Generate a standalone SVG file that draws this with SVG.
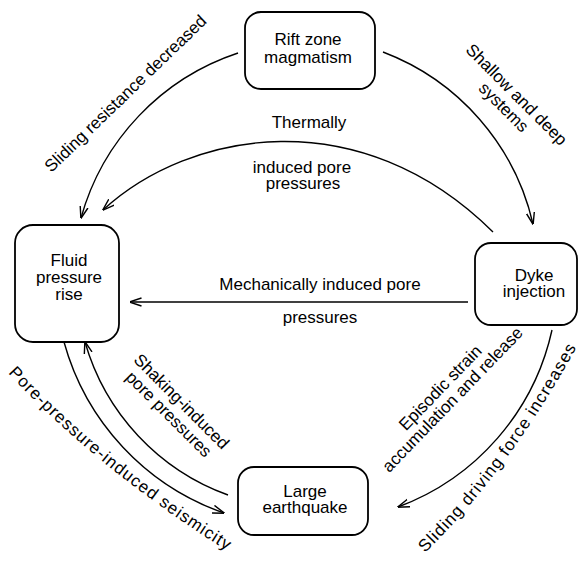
<svg xmlns="http://www.w3.org/2000/svg" width="579" height="562" viewBox="0 0 579 562">
<defs>
<style>
.box{fill:#fff;stroke:#000;stroke-width:1.8}
.t{font-family:"Liberation Sans",Arial,sans-serif;font-size:17px;fill:#000;text-anchor:middle}
.ts{font-family:"Liberation Sans",Arial,sans-serif;font-size:17px;fill:#000;text-anchor:start;letter-spacing:1px}
.c{fill:none;stroke:#000;stroke-width:1.4}
</style>
<marker id="ah" viewBox="0 0 12 10" refX="11.5" refY="5" markerWidth="12" markerHeight="10" markerUnits="userSpaceOnUse" orient="auto">
<path d="M0,1 L12,5 L0,9" fill="none" stroke="#000" stroke-width="1.4"/>
</marker>
<path id="pDrive" d="M425,553 Q515,465 588,326"/>
<path id="pSeis" d="M8,373 Q108,480 252,566"/>
</defs>
<rect width="579" height="562" fill="#fff"/>
<g id="connectors">
<path class="c" marker-end="url(#ah)" d="M238,53 A242,242 0 0 0 81,218"/>
<path class="c" marker-end="url(#ah)" d="M383,52 A242,242 0 0 1 533,224"/>
<path class="c" marker-end="url(#ah)" d="M552,330 A245,245 0 0 1 398,507"/>
<path class="c" marker-end="url(#ah)" d="M64,342 A252,252 0 0 0 224,513"/>
<path class="c" marker-end="url(#ah)" d="M228,495 A230,230 0 0 1 85,342"/>
<path class="c" marker-end="url(#ah)" d="M493,232 C360,100 190,130 103,210"/>
<path class="c" marker-end="url(#ah)" d="M468,302 L130,302"/>
</g>
<g id="labels">
<text class="t" transform="translate(126,94) rotate(-44)" y="5">Sliding resistance decreased</text>
<g transform="translate(516,95) rotate(45)">
<text class="t" y="5">Shallow and deep</text>
<text class="t" y="23">systems</text>
</g>
<text class="t" x="309" y="128">Thermally</text>
<text class="t" x="302" y="173">induced pore</text>
<text class="t" x="303" y="189">pressures</text>
<text class="t" x="320" y="290">Mechanically induced pore</text>
<text class="t" x="320" y="323">pressures</text>
<g transform="translate(453,400) rotate(-46)">
<text class="t" y="-12">Episodic strain</text>
<text class="t" y="5">accumulation and release</text>
</g>
<text class="ts"><textPath href="#pDrive">Sliding driving force increases</textPath></text>
<g transform="translate(181,402) rotate(45)">
<text class="t" y="5">Shaking-induced</text>
<text class="t" y="23">pore pressures</text>
</g>
<text class="ts"><textPath href="#pSeis">Pore-pressure-induced seismicity</textPath></text>
</g>
<g id="rift">
<rect class="box" x="245" y="12" width="130" height="77" rx="16"/>
<text class="t" x="308" y="45">Rift zone</text>
<text class="t" x="308" y="63">magmatism</text>
</g>
<g id="fluid">
<rect class="box" x="15" y="225" width="104" height="117" rx="18"/>
<text class="t" x="69" y="266">Fluid</text>
<text class="t" x="69" y="283">pressure</text>
<text class="t" x="69" y="300">rise</text>
</g>
<g id="dyke">
<rect class="box" x="475" y="243" width="102" height="82" rx="16"/>
<text class="t" x="534" y="281">Dyke</text>
<text class="t" x="534" y="297">injection</text>
</g>
<g id="quake">
<rect class="box" x="238" y="467" width="130" height="68" rx="16"/>
<text class="t" x="305" y="497">Large</text>
<text class="t" x="305" y="513">earthquake</text>
</g>
</svg>
